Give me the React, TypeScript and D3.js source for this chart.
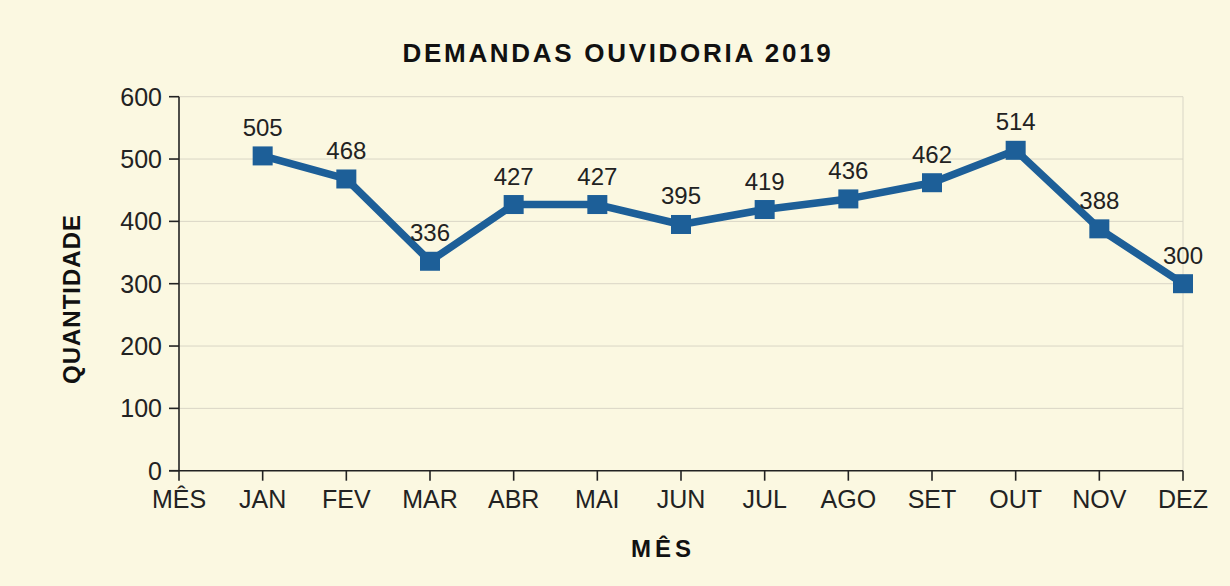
import React from "react";
import * as d3 from "d3";

const categories = ["MÊS", "JAN", "FEV", "MAR", "ABR", "MAI", "JUN", "JUL", "AGO", "SET", "OUT", "NOV", "DEZ"];
const months = ["JAN", "FEV", "MAR", "ABR", "MAI", "JUN", "JUL", "AGO", "SET", "OUT", "NOV", "DEZ"];
const values = [505, 468, 336, 427, 427, 395, 419, 436, 462, 514, 388, 300];
const yTicks = [0, 100, 200, 300, 400, 500, 600];

const W = 1230;
const H = 586;
const LINE = "#1d5f98";
const TEXT = "#222";
const FONT = "'Liberation Sans', Arial, sans-serif";

export default function App() {
  const x = d3.scalePoint<string>().domain(categories).range([179, 1183]);
  const y = d3.scaleLinear().domain([0, 600]).range([470.7, 96.7]);
  const data = months.map((m, i) => ({ m, v: values[i] }));
  const line = d3
    .line<{ m: string; v: number }>()
    .x((d) => x(d.m)!)
    .y((d) => y(d.v));
  const x0 = x.range()[0];
  const x1 = x.range()[1];

  return (
    <svg
      width={W}
      height={H}
      style={{ position: "absolute", left: 0, top: 0, background: "#fbf8e1" }}
      fontFamily={FONT}
    >
      <rect x={0} y={0} width={W} height={H} fill="#fbf8e1" />
      {/* grid */}
      {yTicks.filter((t) => t > 0).map((t) => (
        <line key={"g" + t} x1={x0} x2={x1} y1={y(t)} y2={y(t)} stroke="#d9d6c6" strokeWidth={1} />
      ))}
      <line x1={x1} x2={x1} y1={y(600)} y2={y(0)} stroke="#d9d6c6" strokeWidth={1} />

      {/* axes */}
      <line x1={x0} x2={x0} y1={y(600)} y2={y(0)} stroke={TEXT} strokeWidth={1.6} />
      <line x1={x0 - 10} x2={x1} y1={y(0)} y2={y(0)} stroke={TEXT} strokeWidth={1.6} />
      {yTicks.map((t) => (
        <g key={"y" + t}>
          <line x1={x0 - 10} x2={x0} y1={y(t)} y2={y(t)} stroke={TEXT} strokeWidth={1.6} />
          <text x={x0 - 17} y={y(t)} dy="0.36em" textAnchor="end" fontSize={25} fill={TEXT}>
            {t}
          </text>
        </g>
      ))}
      {categories.map((c) => (
        <g key={"x" + c}>
          <line x1={x(c)!} x2={x(c)!} y1={y(0)} y2={y(0) + 10} stroke={TEXT} strokeWidth={1.6} />
          <text x={x(c)!} y={y(0) + 37} textAnchor="middle" fontSize={25} fill={TEXT}>
            {c}
          </text>
        </g>
      ))}

      {/* series */}
      <path d={line(data)!} fill="none" stroke={LINE} strokeWidth={7.5} strokeLinejoin="round" />
      {data.map((d) => (
        <rect key={"m" + d.m} x={x(d.m)! - 10} y={y(d.v) - 9.5} width={20} height={19} fill={LINE} />
      ))}
      {data.map((d) => (
        <text key={"l" + d.m} x={x(d.m)!} y={y(d.v) - 20} textAnchor="middle" fontSize={24} fill={TEXT}>
          {d.v}
        </text>
      ))}

      {/* titles */}
      <text x={618} y={62} textAnchor="middle" fontSize={26} fontWeight="bold" letterSpacing={2.7} fill="#111">
        DEMANDAS OUVIDORIA 2019
      </text>
      <text x={663} y={557} textAnchor="middle" fontSize={24} fontWeight="bold" letterSpacing={4} fill="#111">
        MÊS
      </text>
      <text
        transform="translate(80,299) rotate(-90)"
        textAnchor="middle"
        fontSize={24}
        fontWeight="bold"
        letterSpacing={1}
        fill="#111"
      >
        QUANTIDADE
      </text>
    </svg>
  );
}
